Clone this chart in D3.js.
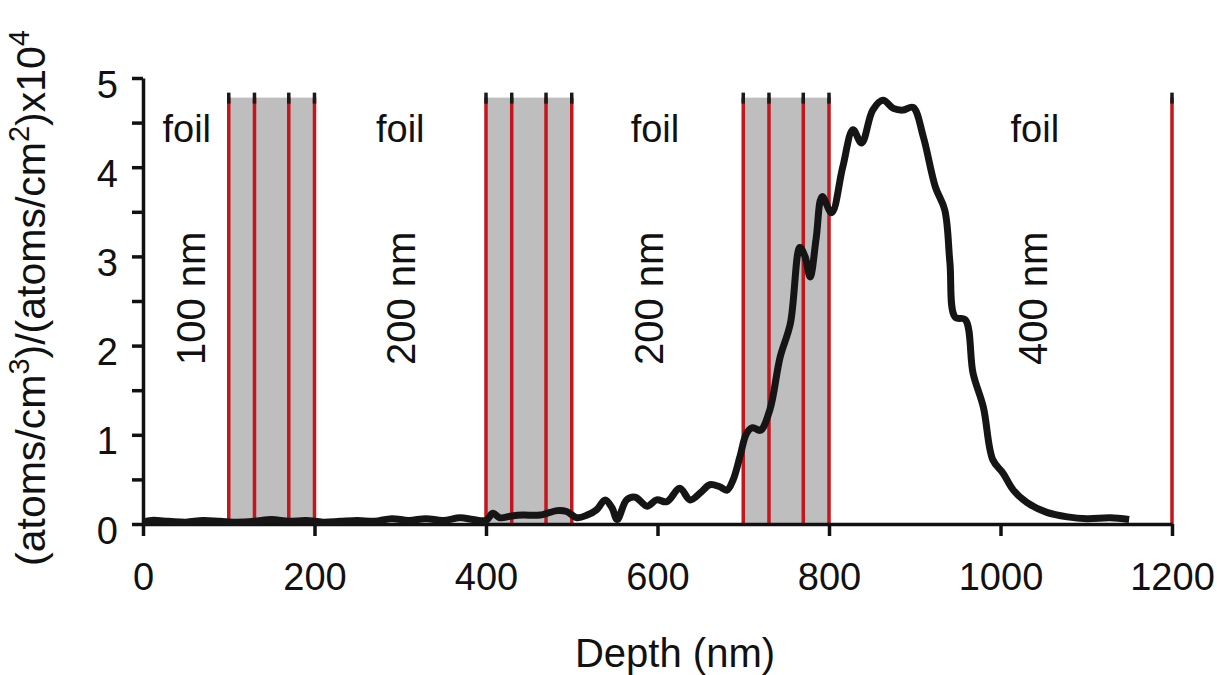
<!DOCTYPE html>
<html lang="en">
<head>
<meta charset="UTF-8">
<title>Depth profile</title>
<style>
  body { margin: 0; background: #fff; }
  svg { display: block; font-family: "Liberation Sans", Arial, sans-serif; }
  .axis path, .axis line { stroke: #111; stroke-width: 3.5; fill: none; }
  .axis text { font-size: 38px; fill: #111; }
</style>
</head>
<body>
<svg id="chart" width="1217" height="675"></svg>
<script src="https://d3js.org/d3.v7.min.js"></script>
<script>
// implant profile
const depth = [0, 10, 30, 50, 70, 90, 110, 130, 150, 170, 190, 210, 230, 250, 270, 290, 310, 330, 350, 370, 385, 400,
  408, 416, 430, 443, 463, 483, 494, 506, 518, 529, 539, 547, 553, 564, 574, 588, 599, 611, 626, 638, 650, 661, 672,
  681, 688, 696, 704, 711, 720, 731, 743, 755, 766, 772, 778, 785, 792, 803, 816, 828, 838, 851, 863, 875, 886, 898,
  910, 924, 935, 941, 947, 959, 968, 980, 991, 1003, 1015, 1031, 1054, 1078, 1101, 1128, 1150];
const conc = [0.02, 0.04, 0.03, 0.02, 0.04, 0.03, 0.02, 0.03, 0.05, 0.03, 0.04, 0.02, 0.03, 0.04, 0.03, 0.06, 0.04, 0.06, 0.04, 0.07, 0.05, 0.04,
  0.12, 0.07, 0.09, 0.1, 0.1, 0.15, 0.14, 0.07, 0.1, 0.16, 0.27, 0.18, 0.05, 0.27, 0.3, 0.2, 0.27, 0.25, 0.4, 0.27, 0.35, 0.44, 0.42,
  0.38, 0.49, 0.75, 1.02, 1.08, 1.05, 1.28, 1.87, 2.25, 3.1, 3.0, 2.77, 3.2, 3.67, 3.49, 4.0, 4.42, 4.27, 4.64, 4.75, 4.66, 4.64, 4.67,
  4.34, 3.78, 3.52, 2.93, 2.32, 2.29, 1.69, 1.31, 0.72, 0.57, 0.38, 0.24, 0.13, 0.08, 0.06, 0.07, 0.05];

const xTicks = [0, 200, 400, 600, 800, 1000, 1200];
const yTicks = [0, 1, 2, 3, 4, 5];
const yMinor = [0.5, 1.5, 2.5, 3.5, 4.5];

// grey spacer stacks and the red boundary lines
const bandStart = [100, 400, 700];
const bandEnd = [200, 500, 800];
const bandTop = 4.78;
const redLines = [100, 130, 170, 200, 400, 430, 470, 500, 700, 730, 770, 800, 1200];

// foil annotations
const foilAt = [51, 300, 597, 1040];
const foilText = ["foil", "foil", "foil", "foil"];
const thickAt = [55, 300, 590, 1037];
const thickText = ["100 nm", "200 nm", "200 nm", "400 nm"];

const margin = {left: 143, top: 78, right: 45, bottom: 151};
const W = 1217, H = 675;

const svg = d3.select("#chart");

const x = d3.scaleLinear().domain([0, 1200]).range([margin.left, W - margin.right]);
const y = d3.scaleLinear().domain([0, 5]).range([H - margin.bottom, margin.top]);

// bands
svg.append("g").selectAll("rect")
  .data(bandStart)
  .join("rect")
  .attr("x", (d, i) => x(d))
  .attr("y", y(bandTop))
  .attr("width", (d, i) => x(bandEnd[i]) - x(d))
  .attr("height", y(0) - y(bandTop))
  .attr("fill", "#bebebe");

// red lines with small black caps on top
svg.append("g").selectAll("line")
  .data(redLines)
  .join("line")
  .attr("x1", d => x(d)).attr("x2", d => x(d))
  .attr("y1", y(bandTop)).attr("y2", y(0))
  .attr("stroke", "#c4161c")
  .attr("stroke-width", 3.5);

svg.append("g").selectAll("line")
  .data(redLines)
  .join("line")
  .attr("x1", d => x(d)).attr("x2", d => x(d))
  .attr("y1", y(bandTop) - 5).attr("y2", y(bandTop) + 6)
  .attr("stroke", "#1a1a1a")
  .attr("stroke-width", 3.5);

// axes
svg.append("g")
  .attr("class", "axis")
  .attr("transform", `translate(0,${y(0)})`)
  .call(d3.axisBottom(x).tickValues(xTicks).tickSize(12).tickSizeOuter(0).tickPadding(27).tickFormat(d3.format("d")));

svg.append("g")
  .attr("class", "axis")
  .attr("transform", `translate(${x(0)},0)`)
  .call(d3.axisLeft(y).tickValues(yTicks).tickSize(11).tickSizeOuter(0).tickPadding(14).tickFormat(d3.format("d")))
  .call(g => g.selectAll("text").attr("dy", "0.5em"));

svg.append("g")
  .attr("class", "axis")
  .attr("transform", `translate(${x(0)},0)`)
  .call(d3.axisLeft(y).tickValues(yMinor).tickSize(11).tickFormat(""))
  .call(g => g.select(".domain").remove());

// profile curve
svg.append("path")
  .datum(depth.map((d, i) => [d, conc[i]]))
  .attr("fill", "none")
  .attr("stroke", "#151515")
  .attr("stroke-width", 7)
  .attr("stroke-linejoin", "round")
  .attr("d", d3.line().x(d => x(d[0])).y(d => y(d[1])).curve(d3.curveCatmullRom.alpha(0.5)));

// annotations
svg.append("g").selectAll("text")
  .data(foilAt)
  .join("text")
  .attr("x", d => x(d))
  .attr("y", y(4.28))
  .attr("text-anchor", "middle")
  .attr("font-size", 38)
  .attr("fill", "#111")
  .text((d, i) => foilText[i]);

svg.append("g").selectAll("text")
  .data(thickAt)
  .join("text")
  .attr("transform", d => `translate(${x(d)},${y(2.53)}) rotate(-90)`)
  .attr("text-anchor", "middle")
  .attr("dy", "0.36em")
  .attr("font-size", 40)
  .attr("fill", "#111")
  .text((d, i) => thickText[i]);

// axis titles
svg.append("text")
  .attr("x", 675)
  .attr("y", 667)
  .attr("text-anchor", "middle")
  .attr("font-size", 40)
  .attr("fill", "#111")
  .text("Depth (nm)");

const yt = svg.append("text")
  .attr("transform", "translate(45,298) rotate(-90)")
  .attr("text-anchor", "middle")
  .attr("font-size", 41)
  .attr("fill", "#111");
yt.append("tspan").text("(atoms/cm");
yt.append("tspan").attr("font-size", 29).attr("dy", -16).text("3");
yt.append("tspan").attr("dy", 16).text(")/(atoms/cm");
yt.append("tspan").attr("font-size", 29).attr("dy", -16).text("2");
yt.append("tspan").attr("dy", 16).text(")x10");
yt.append("tspan").attr("font-size", 29).attr("dy", -16).text("4");
</script>
</body>
</html>
